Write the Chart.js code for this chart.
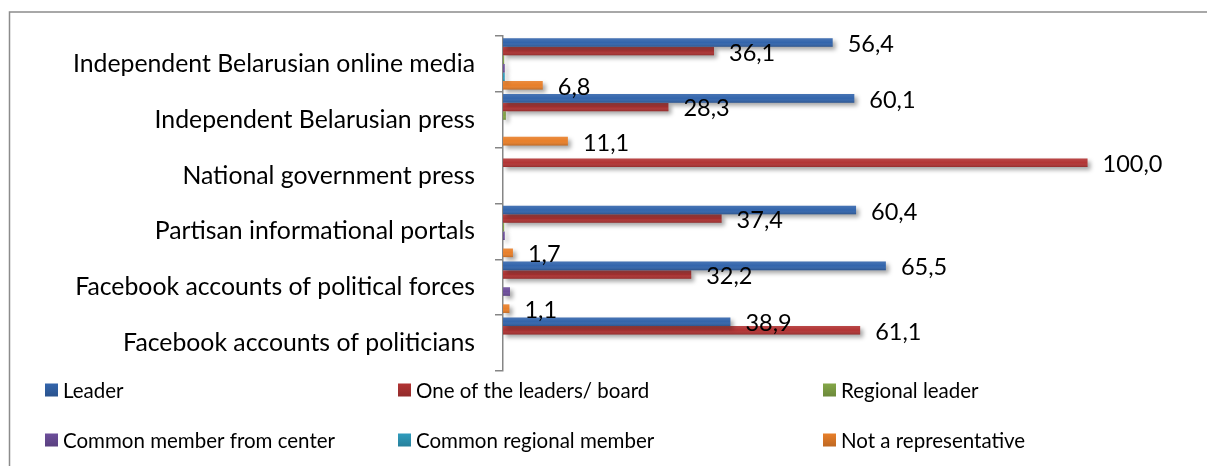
<!DOCTYPE html>
<html>
<head>
<meta charset="utf-8">
<title>Media sources by party role</title>
<script src="https://cdn.jsdelivr.net/npm/chart.js@4.4.1/dist/chart.umd.min.js"></script>
<style>
  html, body { margin: 0; padding: 0; background: #fff; }
  #wrap { position: relative; width: 1207px; height: 466px; }
</style>
</head>
<body>
<div id="wrap"><canvas id="myChart" width="1207" height="466"></canvas></div>
<script>

// categories, top to bottom
var categories = [
  "Independent Belarusian online media",
  "Independent Belarusian press",
  "National government press",
  "Partisan informational portals",
  "Facebook accounts of political forces",
  "Facebook accounts of politicians"
];

// series values (percent)
var leader         = [56.4, 60.1, 0,     60.4, 65.5, 38.9];
var oneOfLeaders   = [36.1, 28.3, 100.0, 37.4, 32.2, 61.1];
var regionalLeader = [0.2,  0.5,  0,     0.2,  0,    0];
var commonCenter   = [0.3,  0,    0,     0.3,  1.2,  0];
var commonRegional = [0.3,  0,    0,     0,    0,    0];
var notRep         = [6.8,  11.1, 0,     1.7,  1.1,  0];

var seriesNames = [
  "Leader",
  "One of the leaders/ board",
  "Regional leader",
  "Common member from center",
  "Common regional member",
  "Not a representative"
];
var seriesData = [leader, oneOfLeaders, regionalLeader, commonCenter, commonRegional, notRep];
var colors = ['#3365AC', '#B23434', '#84A748', '#6D4E9B', '#2F9CBD', '#E87F2A'];

// only these series get value labels
var labeledSeries = [0, 1, 5];

var datasets = [];
for (var i = 0; i < seriesNames.length; i++) {
  datasets.push({
    label: seriesNames[i],
    data: seriesData[i],
    backgroundColor: colors[i],
    borderWidth: 0,
    categoryPercentage: 0.92,
    barPercentage: 1.0
  });
}

function fmt(v) {
  return v.toFixed(1).replace('.', ',');
}

// outer frame + legend, drawn straight on the canvas
var framePlugin = {
  id: 'frame',
  beforeDraw: function (chart) {
    var ctx = chart.ctx;
    ctx.save();
    ctx.strokeStyle = '#8c8c8c';
    ctx.lineWidth = 1.5;
    ctx.strokeRect(9.5, 12, 1300, 600);
    ctx.restore();
  },
  afterDraw: function (chart) {
    var ctx = chart.ctx;
    var colX = [45, 398, 823];
    var rowY = [390, 440];
    ctx.save();
    ctx.font = '20.5px Lato';
    ctx.textBaseline = 'middle';
    ctx.fillStyle = '#000';
    for (var k = 0; k < seriesNames.length; k++) {
      var x = colX[k % 3];
      var y = rowY[Math.floor(k / 3)];
      var g = ctx.createLinearGradient(0, y - 6.5, 0, y + 6.5);
      g.addColorStop(0, colors[k]);
      g.addColorStop(1, shade(colors[k], -0.18));
      ctx.fillStyle = g;
      ctx.fillRect(x, y - 6.5, 13, 13);
      ctx.fillStyle = '#000';
      ctx.fillText(seriesNames[k], x + 18, y + 1);
    }
    ctx.restore();
  }
};

// darken / lighten a hex colour
function shade(hex, amt) {
  var n = parseInt(hex.slice(1), 16);
  var r = (n >> 16) & 255, g = (n >> 8) & 255, b = n & 255;
  function f(c) {
    c = amt < 0 ? c * (1 + amt) : c + (255 - c) * amt;
    return Math.round(Math.max(0, Math.min(255, c)));
  }
  return 'rgb(' + f(r) + ',' + f(g) + ',' + f(b) + ')';
}

// drop shadow under the bars, a little shading on them, and the value labels
var barLookPlugin = {
  id: 'barLook',
  beforeDatasetsDraw: function (chart) {
    var ctx = chart.ctx;
    ctx.save();
    ctx.shadowColor = 'rgba(0,0,0,0.35)';
    ctx.shadowBlur = 4;
    ctx.shadowOffsetX = 3;
    ctx.shadowOffsetY = 3;
  },
  afterDatasetsDraw: function (chart) {
    var ctx = chart.ctx;
    ctx.restore();
    ctx.save();
    for (var d = 0; d < chart.data.datasets.length; d++) {
      var meta = chart.getDatasetMeta(d);
      meta.data.forEach(function (bar, idx) {
        var w = bar.x - bar.base;
        if (w <= 0) return;
        var top = bar.y - bar.height / 2;
        var g = ctx.createLinearGradient(0, top, 0, top + bar.height);
        g.addColorStop(0, 'rgba(255,255,255,0.10)');
        g.addColorStop(0.5, 'rgba(255,255,255,0)');
        g.addColorStop(1, 'rgba(0,0,0,0.18)');
        ctx.fillStyle = g;
        ctx.fillRect(bar.base, top, w, bar.height);
      });
    }
    ctx.font = '23.5px Lato';
    ctx.fillStyle = '#000';
    ctx.textBaseline = 'middle';
    ctx.textAlign = 'left';
    labeledSeries.forEach(function (d) {
      var meta = chart.getDatasetMeta(d);
      meta.data.forEach(function (bar, idx) {
        var v = chart.data.datasets[d].data[idx];
        if (!v) return;
        ctx.fillText(fmt(v), bar.x + 15, bar.y + 2);
      });
    });
    ctx.restore();
  }
};

var canvas = document.getElementById("myChart");
var setup = {
  type: 'bar',
  data: {
    labels: categories,
    datasets: datasets
  },
  options: {
    indexAxis: 'y',
    responsive: false,
    animation: false,
    layout: {
      padding: { top: 36, bottom: 95, right: 61, left: 0 }
    },
    scales: {
      x: {
        display: false,
        min: 0,
        max: 110
      },
      y: {
        afterFit: function (scale) { scale.width = 503; },
        border: { display: true, color: '#868686', width: 1.5 },
        grid: {
          drawOnChartArea: false,
          drawTicks: true,
          tickLength: 8,
          color: '#868686',
          lineWidth: 1.5,
          offset: true
        },
        ticks: {
          color: '#000',
          padding: 20,
          font: { family: 'Lato', size: 24.8 }
        }
      }
    },
    plugins: {
      legend: { display: false },
      tooltip: { enabled: false },
      title: { display: false }
    }
  },
  plugins: [framePlugin, barLookPlugin]
};

Chart.defaults.font.family = 'Lato';
var chart = new Chart(canvas, setup);

</script>
</body>
</html>
